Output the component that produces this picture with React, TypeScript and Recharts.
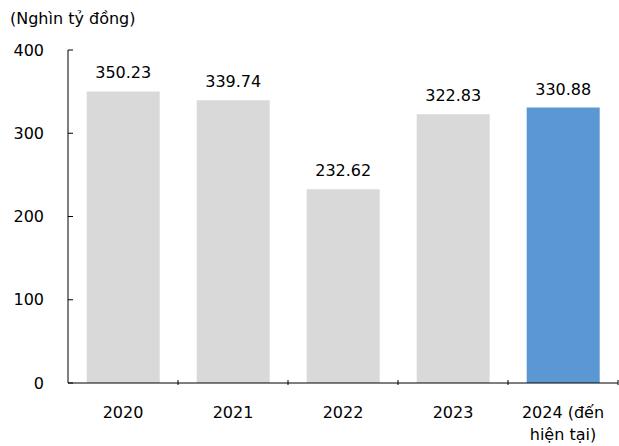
import { BarChart, Bar, XAxis, YAxis, Cell, LabelList } from 'recharts';

const years = ['2020', '2021', '2022', '2023', '2024 (đến\nhiện tại)'];
const revenue = [350.23, 339.74, 232.62, 322.83, 330.88];
const yTicks = [0, 100, 200, 300, 400];

const FONT = '"DejaVu Sans", Verdana, sans-serif';
const GREY = '#D9D9D9';
const BLUE = '#5B97D2';

const chartData = years.map((year, i) => ({
    year,
    value: revenue[i],
    latest: i === years.length - 1,
}));

// y-axis label with a short tick pointing into the plot
const YTick = ({ x, y, payload }: any) => (
    <g>
        <line x1={x} y1={y} x2={x + 5} y2={y} stroke="#000" strokeWidth={1} />
        <text
            x={x - 24}
            y={y}
            textAnchor="end"
            dominantBaseline="central"
            fontSize={16}
            fontFamily={FONT}
            fill="#000"
        >
            {payload.value}
        </text>
    </g>
);

// category label, plus an inward tick on the right boundary of each band
const XTick = ({ x, y, payload, width }: any) => {
    const band = width / years.length;
    const lines = String(payload.value).split('\n');
    return (
        <g>
            <line x1={x + band / 2} y1={y} x2={x + band / 2} y2={y - 5} stroke="#000" strokeWidth={1} />
            <text x={x} y={y + 27} textAnchor="middle" fontSize={16} fontFamily={FONT} fill="#000">
                {lines.map((line, i) => (
                    <tspan key={i} x={x} dy={i === 0 ? '0.35em' : 22}>
                        {line}
                    </tspan>
                ))}
            </text>
        </g>
    );
};

export default function App() {
    return (
        <div style={{ position: 'absolute', left: 0, top: 0, width: 619, height: 446, background: '#fff' }}>
            <div
                style={{
                    position: 'absolute',
                    left: 10,
                    top: 9,
                    fontFamily: FONT,
                    fontSize: 16,
                    color: '#000',
                    whiteSpace: 'nowrap',
                }}
            >
                (Nghìn tỷ đồng)
            </div>
            <BarChart
                width={619}
                height={446}
                data={chartData}
                margin={{ top: 50, right: 1, left: 8, bottom: 8 }}
                barCategoryGap="17%"
            >
                <XAxis
                    dataKey="year"
                    axisLine={{ stroke: '#000' }}
                    tickLine={false}
                    tickSize={0}
                    tick={<XTick />}
                    interval={0}
                    height={55}
                />
                <YAxis
                    domain={[0, 400]}
                    ticks={yTicks}
                    axisLine={{ stroke: '#000' }}
                    tickLine={false}
                    tickSize={0}
                    tickMargin={0}
                    tick={<YTick />}
                    width={60}
                />
                <Bar dataKey="value" isAnimationActive={false}>
                    {chartData.map((d) => (
                        <Cell key={d.year} fill={d.latest ? BLUE : GREY} />
                    ))}
                    <LabelList
                        dataKey="value"
                        position="top"
                        offset={13}
                        fontSize={16}
                        fontFamily={FONT}
                        fill="#000"
                        formatter={(v: any) => Number(v).toFixed(2)}
                    />
                </Bar>
            </BarChart>
        </div>
    );
}
